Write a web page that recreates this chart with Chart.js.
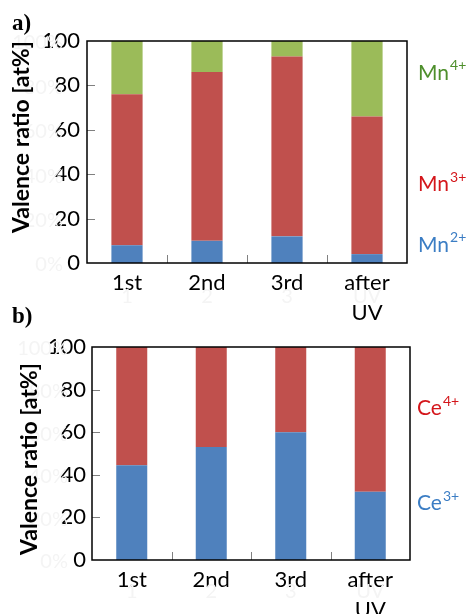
<!DOCTYPE html>
<html><head><meta charset="utf-8">
<script src="https://cdn.jsdelivr.net/npm/chart.js@4/dist/chart.umd.min.js"></script>
<style>
html,body{margin:0;padding:0;background:#fff;width:466px;height:614px;overflow:hidden;position:relative}
#ca{position:absolute;left:0;top:0}
#cb{position:absolute;left:0;top:300px}
.lbl{position:absolute;font:bold 23px "Liberation Serif",serif;color:#000;line-height:1}
</style></head><body>
<canvas id="ca" width="466" height="330"></canvas>
<canvas id="cb" width="466" height="314"></canvas>
<div class="lbl" style="left:12px;top:11px">a)</div>
<div class="lbl" style="left:12px;top:304px">b)</div>
<script>
// ---- data ----
const categories = [['1st'], ['2nd'], ['3rd'], ['after', 'UV']];
const ghostCategories = ['1', '2', '3', 'UV'];
const yTicks = [0, 20, 40, 60, 80, 100];
const ghostYTicks = ['0%', '20%', '40%', '60%', '80%', '100%'];
const mn2 = [8, 10, 12, 4];
const mn3 = [68, 76, 81, 62];
const mn4 = [24, 14, 7, 34];
const ce3 = [44.5, 53, 60, 32];
const ce4 = [55.5, 47, 40, 68];

const FONT = 'Lato, "Open Sans", sans-serif';
const BLUE = '#4F81BD', RED = '#C0504D', GREEN = '#9BBB59';

const framePlugin = {
  id: 'frame',
  beforeDatasetsDraw(chart, args, o) {
    const {ctx, scales: {x, y}, chartArea: a} = chart;
    ctx.save();
    ctx.fillStyle = '#f4f4f4';
    ctx.font = '20px ' + FONT;
    ctx.textAlign = 'right'; ctx.textBaseline = 'middle';
    yTicks.forEach((v, i) => ctx.fillText(ghostYTicks[i], a.left - 24, y.getPixelForValue(v) + 2));
    ctx.textAlign = 'center';
    ghostCategories.forEach((t, i) => ctx.fillText(t, x.getPixelForValue(i), a.bottom + o.ghostDy));
    ctx.restore();
  },
  afterDatasetsDraw(chart, args, o) {
    const {ctx, scales: {x, y}, chartArea: a} = chart;
    ctx.save();
    ctx.strokeStyle = '#808080'; ctx.lineWidth = 1;
    ctx.beginPath();
    yTicks.forEach(v => {
      if (v > 0 && v < 100) {
        const py = Math.round(y.getPixelForValue(v)) + 0.5;
        ctx.moveTo(a.left, py); ctx.lineTo(a.left + 8, py);
      }
    });
    for (let i = 0; i < categories.length - 1; i++) {
      const px = Math.round((x.getPixelForValue(i) + x.getPixelForValue(i + 1)) / 2) + 0.5;
      ctx.moveTo(px, a.bottom); ctx.lineTo(px, a.bottom - 8);
    }
    ctx.stroke();
    ctx.strokeStyle = '#000'; ctx.lineWidth = 1.5;
    ctx.strokeRect(a.left, a.top, a.right - a.left, a.bottom - a.top);
    // y title
    ctx.translate(o.titleX, o.titleY);
    ctx.rotate(-Math.PI / 2);
    ctx.fillStyle = '#000';
    ctx.font = 'bold 23px ' + FONT;
    ctx.textAlign = 'center'; ctx.textBaseline = 'middle';
    ctx.fillText('Valence ratio [at%]', 0, 0);
    ctx.setTransform(1, 0, 0, 1, 0, 0);
    // side labels
    o.items.forEach(it => {
      const py = y.getPixelForValue(it.at);
      const px = a.right + o.dx;
      ctx.fillStyle = it.color;
      ctx.textAlign = 'left'; ctx.textBaseline = 'middle';
      ctx.font = '21px ' + FONT;
      ctx.fillText(it.base, px, py);
      const w = ctx.measureText(it.base).width;
      ctx.font = '14px ' + FONT;
      ctx.fillText(it.sup, px + w + 1, py - 7);
    });
    ctx.restore();
  }
};

function makeChart(id, datasets, cfg) {
  return new Chart(document.getElementById(id), {
    type: 'bar',
    data: {labels: categories, datasets},
    plugins: [framePlugin],
    options: {
      responsive: false, animation: false, devicePixelRatio: 1,
      layout: {padding: {left: 0, top: cfg.top, right: cfg.right, bottom: 0}},
      plugins: {
        legend: {display: false}, tooltip: {enabled: false},
        frame: cfg.frame
      },
      datasets: {bar: {categoryPercentage: 1, barPercentage: 0.39, borderWidth: 0}},
      scales: {
        x: {
          stacked: true,
          grid: {display: false, drawTicks: false}, border: {display: false},
          ticks: {color: '#000', font: {family: FONT, size: 22, lineHeight: 1.35}, padding: cfg.xPad, maxRotation: 0},
          afterFit: s => { s.height = cfg.xHeight; }
        },
        y: {
          stacked: true, min: 0, max: 100,
          grid: {display: false, drawTicks: false}, border: {display: false},
          ticks: {stepSize: 20, color: '#000', font: {family: FONT, size: 22}, padding: cfg.yPad},
          afterFit: s => { s.width = cfg.yWidth; }
        }
      }
    }
  });
}

makeChart('ca', [
  {label: 'Mn2+', data: mn2, backgroundColor: BLUE},
  {label: 'Mn3+', data: mn3, backgroundColor: RED},
  {label: 'Mn4+', data: mn4, backgroundColor: GREEN}
], {
  top: 41, right: 59, xHeight: 67, yWidth: 87, xPad: 5, yPad: 7,
  frame: {
    titleX: 22, titleY: 137, dx: 11, ghostDy: 34,
    items: [
      {base: 'Mn', sup: '4+', color: '#4E8F2C', at: 85.7},
      {base: 'Mn', sup: '3+', color: '#D4161B', at: 35.3},
      {base: 'Mn', sup: '2+', color: '#3B7DC4', at: 8.2}
    ]
  }
});

makeChart('cb', [
  {label: 'Ce3+', data: ce3, backgroundColor: BLUE},
  {label: 'Ce4+', data: ce4, backgroundColor: RED}
], {
  top: 47, right: 56, xHeight: 54, yWidth: 92, xPad: 5, yPad: 6,
  frame: {
    titleX: 30, titleY: 159, dx: 7, ghostDy: 32,
    items: [
      {base: 'Ce', sup: '4+', color: '#D4161B', at: 71.3},
      {base: 'Ce', sup: '3+', color: '#3B7DC4', at: 26.6}
    ]
  }
});
</script>
</body></html>
